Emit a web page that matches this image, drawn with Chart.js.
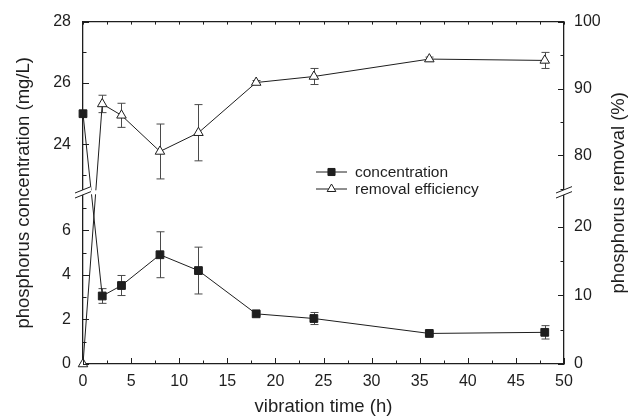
<!DOCTYPE html>
<html>
<head>
<meta charset="utf-8">
<script src="https://cdn.jsdelivr.net/npm/chart.js@4/dist/chart.umd.min.js"></script>
<style>
  html, body { margin: 0; padding: 0; background: #fff; }
  #wrap { width: 636px; height: 420px; }
</style>
</head>
<body>
<div id="wrap"><canvas id="chart" width="636" height="420"></canvas></div>
<script>
const hours            = [0, 2, 4, 8, 12, 18, 24, 36, 48];
const concentration    = [25.0, 3.05, 3.52, 4.90, 4.19, 2.25, 2.04, 1.37, 1.42];
const concentrationErr = [0, 0.33, 0.45, 1.03, 1.05, 0.08, 0.27, 0.07, 0.30];
const removal          = [0, 87.7, 86.0, 80.6, 83.4, 90.9, 91.8, 94.4, 94.2];
const removalErr       = [0, 1.3, 1.8, 4.1, 4.2, 0.3, 1.2, 0.3, 1.2];

const xTicks          = [0, 5, 10, 15, 20, 25, 30, 35, 40, 45, 50];
const concTopTicks    = [24, 26, 28];
const concBotTicks    = [0, 2, 4, 6];
const removalTopTicks = [80, 90, 100];
const removalBotTicks = [0, 10, 20];

// broken axis ranges (upper / lower segments)
const CONC_TOP = [22.44, 28];
const CONC_BOT = [0, 7.7];
const REM_TOP  = [74.5, 100];
const REM_BOT  = [0, 25];

const INK     = '#1e1e1e';
const ERR_INK = '#4a4a4a';
const FAMILY  = '"Liberation Sans", Arial, Helvetica, sans-serif';
const FONT    = { family: FAMILY, size: 16 };

const SERIES = [
  { label: 'concentration', values: concentration, errors: concentrationErr,
    top: 'yTop', bottom: 'yBot', limit: CONC_BOT[1], style: 'rect', fill: INK },
  { label: 'removal efficiency', values: removal, errors: removalErr,
    top: 'rTop', bottom: 'rBot', limit: REM_BOT[1], style: 'triangle', fill: '#fff' },
];

const axisFor = (s, v) => (v > s.limit ? s.top : s.bottom);

const datasets = [];
SERIES.forEach(s => {
  [s.bottom, s.top].forEach(axis => {
    const pts = hours
      .map((h, i) => ({ x: h, y: s.values[i] }))
      .filter(p => axisFor(s, p.y) === axis);
    datasets.push({
      label: s.label,
      data: pts,
      xAxisID: 'x',
      yAxisID: axis,
      borderColor: INK,
      borderWidth: 1,
      backgroundColor: s.fill,
      pointStyle: s.style,
      pointRadius: 5.5,
      pointBorderWidth: 1,
      pointBackgroundColor: s.fill,
      pointBorderColor: INK,
      showLine: true,
      tension: 0,
      clip: false,
    });
  });
});

function yAxis(position, stack, weight, range, ticks) {
  return {
    type: 'linear',
    position,
    stack,
    stackWeight: weight,
    min: range[0],
    max: range[1],
    grid:   { display: false, drawTicks: false },
    border: { display: true, color: INK, width: 1.3 },
    ticks:  { font: FONT, color: INK, padding: position === 'left' ? 12 : 10 },
    afterBuildTicks: s => { s.ticks = ticks.map(value => ({ value })); },
    afterFit: s => { s.width = position === 'left' ? 83 : 72; },
  };
}

const TICK_SPECS = [
  { id: 'x',    minor: 2.5, major: 5 },
  { id: 'yTop', minor: 1,   major: 2 },
  { id: 'yBot', minor: 1,   major: 2 },
  { id: 'rTop', minor: 5,   major: 10 },
  { id: 'rBot', minor: 5,   major: 10 },
];

function stepValues(min, max, step) {
  const out = [];
  for (let v = Math.ceil(min / step - 1e-9) * step; v <= max + 1e-9; v += step) out.push(v);
  return out;
}

function isMajor(v, major) {
  return Math.abs(v / major - Math.round(v / major)) < 1e-6;
}

const brokenAxisPlugin = {
  id: 'brokenAxis',
  beforeDatasetsDraw(chart) {
    const { ctx, scales } = chart;
    const xs = scales.x;
    ctx.save();
    ctx.lineWidth = 1;
    SERIES.forEach(s => {
      // error bars
      ctx.strokeStyle = ERR_INK;
      s.values.forEach((v, i) => {
        const err = s.errors[i];
        if (!err) return;
        const ys  = scales[axisFor(s, v)];
        const px  = Math.round(xs.getPixelForValue(hours[i])) + 0.5;
        const top = ys.getPixelForValue(v + err);
        const bot = ys.getPixelForValue(v - err);
        ctx.beginPath();
        ctx.moveTo(px, top); ctx.lineTo(px, bot);
        ctx.moveTo(px - 4, top); ctx.lineTo(px + 4, top);
        ctx.moveTo(px - 4, bot); ctx.lineTo(px + 4, bot);
        ctx.stroke();
      });
      // segments that jump across the break
      ctx.strokeStyle = INK;
      for (let i = 0; i < hours.length - 1; i++) {
        const a = axisFor(s, s.values[i]);
        const b = axisFor(s, s.values[i + 1]);
        if (a === b) continue;
        ctx.beginPath();
        ctx.moveTo(xs.getPixelForValue(hours[i]), scales[a].getPixelForValue(s.values[i]));
        ctx.lineTo(xs.getPixelForValue(hours[i + 1]), scales[b].getPixelForValue(s.values[i + 1]));
        ctx.stroke();
      }
    });
    ctx.restore();
  },
  afterDatasetsDraw(chart) {
    const { ctx, scales, chartArea: area } = chart;
    ctx.save();
    ctx.strokeStyle = INK;
    ctx.lineWidth = 1;

    // top frame line
    ctx.beginPath();
    ctx.lineWidth = 1.3;
    ctx.moveTo(area.left, area.top);
    ctx.lineTo(area.right, area.top);
    ctx.stroke();
    ctx.lineWidth = 1;

    // inward ticks
    TICK_SPECS.forEach(spec => {
      const sc = scales[spec.id];
      stepValues(sc.min, sc.max, spec.minor).forEach(v => {
        const len = isMajor(v, spec.major) ? 6 : 3.5;
        const p = Math.round(sc.getPixelForValue(v)) + 0.5;
        ctx.beginPath();
        if (spec.id === 'x') {
          ctx.moveTo(p, area.bottom); ctx.lineTo(p, area.bottom - len);
          ctx.moveTo(p, area.top);    ctx.lineTo(p, area.top + 3);
        } else if (sc.position === 'left') {
          ctx.moveTo(area.left, p); ctx.lineTo(area.left + len, p);
        } else {
          ctx.moveTo(area.right, p); ctx.lineTo(area.right - len, p);
        }
        ctx.stroke();
      });
    });

    // axis break
    const split = scales.yTop.bottom;
    ctx.fillStyle = '#fff';
    ctx.fillRect(area.left + 1, split - 2, area.right - area.left - 2, 4);
    [area.left, area.right].forEach(x0 => {
      const d = 2.5, w = 8, s = 3.2;
      ctx.beginPath();
      ctx.moveTo(x0 - w, split - d + s);
      ctx.lineTo(x0 + w, split - d - s);
      ctx.lineTo(x0 + w, split + d - s);
      ctx.lineTo(x0 - w, split + d + s);
      ctx.closePath();
      ctx.fill();
      ctx.beginPath();
      ctx.moveTo(x0 - w, split - d + s); ctx.lineTo(x0 + w, split - d - s);
      ctx.moveTo(x0 - w, split + d + s); ctx.lineTo(x0 + w, split + d - s);
      ctx.stroke();
    });
    ctx.restore();
  },
  afterDraw(chart) {
    const { ctx, chartArea: area } = chart;
    const midY = (area.top + area.bottom) / 2;
    ctx.save();
    ctx.fillStyle = INK;
    ctx.font = `18.5px ${FAMILY}`;
    ctx.textAlign = 'center';
    ctx.textBaseline = 'middle';
    ctx.fillText('vibration time (h)', (area.left + area.right) / 2, 407);
    [[24, 'phosphorus concentration (mg/L)'], [619, 'phosphorus removal (%)']].forEach(([x, t]) => {
      ctx.save();
      ctx.translate(x, midY);
      ctx.rotate(-Math.PI / 2);
      ctx.fillText(t, 0, 0);
      ctx.restore();
    });

    // legend
    ctx.font = `15.5px ${FAMILY}`;
    ctx.textAlign = 'left';
    SERIES.forEach((s, i) => {
      const y = 172 + i * 17;
      ctx.strokeStyle = INK;
      ctx.lineWidth = 1;
      ctx.beginPath();
      ctx.moveTo(316, y); ctx.lineTo(347, y);
      ctx.stroke();
      ctx.fillStyle = s.fill;
      Chart.helpers.drawPoint(ctx, { pointStyle: s.style, radius: 5, rotation: 0, borderWidth: 1 }, 331.5, y);
      ctx.fillStyle = INK;
      ctx.fillText(s.label, 355, y + 1);
    });
    ctx.restore();
  },
};

new Chart(document.getElementById('chart'), {
  type: 'line',
  data: { datasets },
  options: {
    responsive: false,
    animation: false,
    events: [],
    layout: { padding: { top: 21, left: 0, right: 0, bottom: 0 } },
    plugins: { legend: { display: false }, tooltip: { enabled: false } },
    scales: {
      x: {
        type: 'linear',
        position: 'bottom',
        min: 0,
        max: 50,
        grid:   { display: false, drawTicks: false },
        border: { display: true, color: INK, width: 1.3 },
        ticks:  { font: FONT, color: INK, padding: 8, maxRotation: 0, autoSkip: false },
        afterBuildTicks: s => { s.ticks = xTicks.map(value => ({ value })); },
        afterFit: s => { s.height = 56; },
      },
      yBot: yAxis('left',  'left',  172, CONC_BOT, concBotTicks),
      yTop: yAxis('left',  'left',  171, CONC_TOP, concTopTicks),
      rTop: yAxis('right', 'right', 171, REM_TOP,  removalTopTicks),
      rBot: yAxis('right', 'right', 172, REM_BOT,  removalBotTicks),
    },
  },
  plugins: [brokenAxisPlugin],
});
</script>
</body>
</html>
